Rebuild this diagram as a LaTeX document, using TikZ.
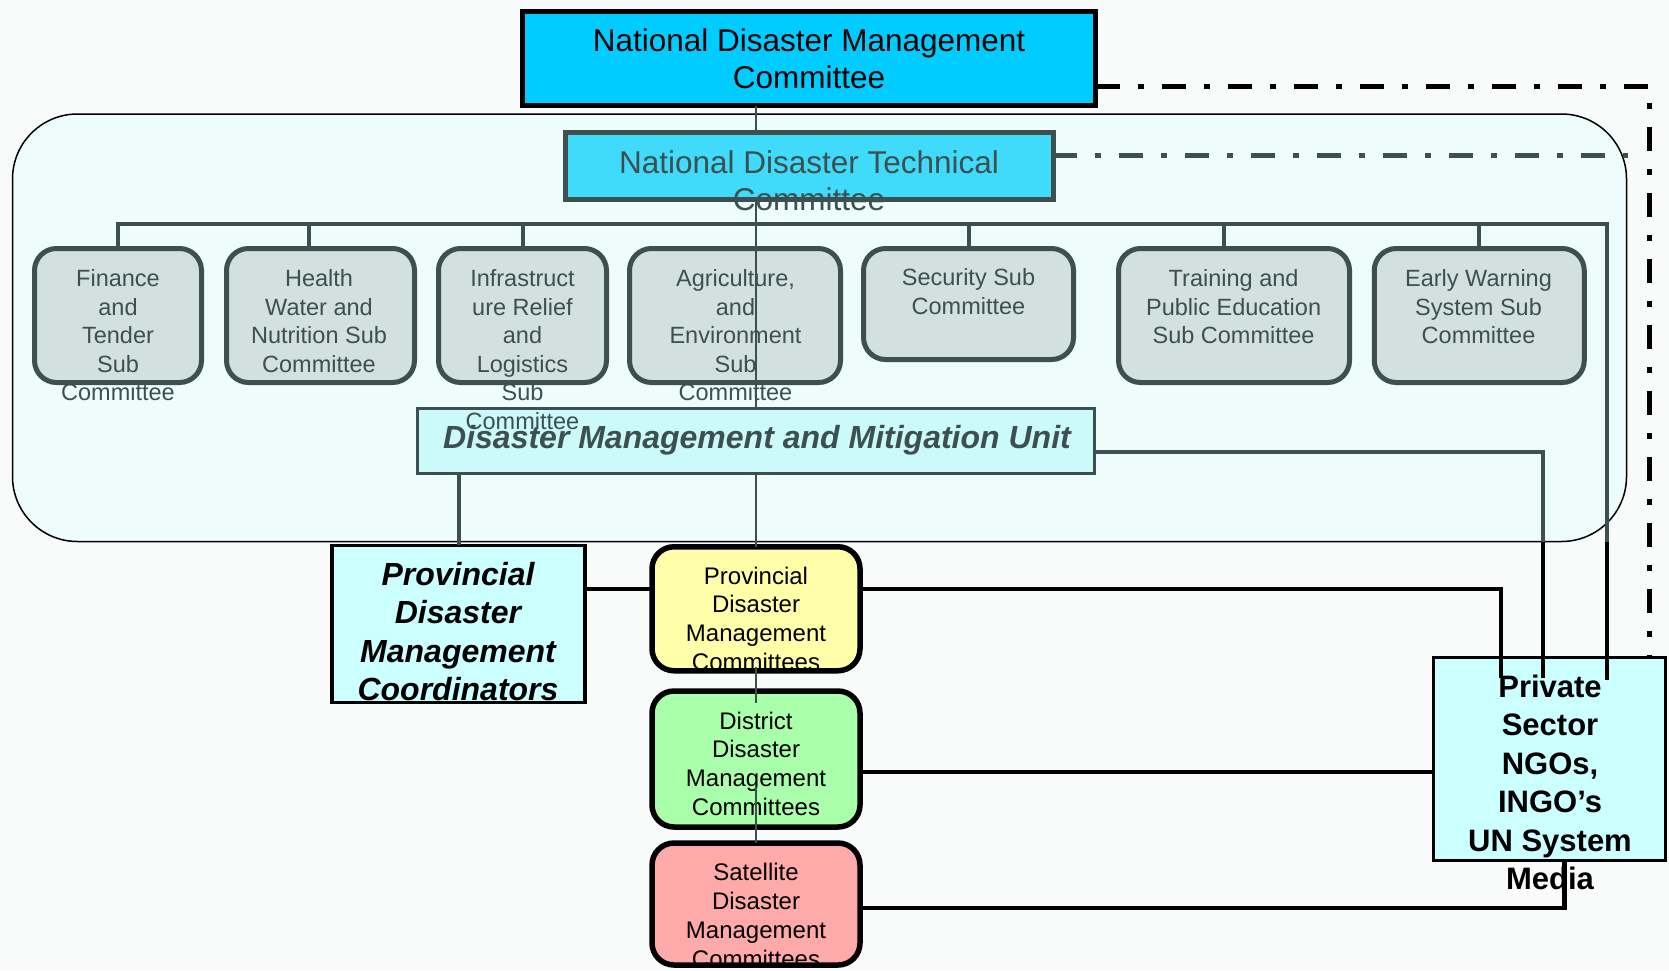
\documentclass[tikz,border=0pt]{standalone}
\usepackage{fontspec}
\setmainfont{Liberation Sans}
\definecolor{slate}{HTML}{3E4F4F}
\definecolor{bgc}{HTML}{F9FAFA}
\definecolor{regfill}{HTML}{EEFCFC}
\definecolor{ndmcfill}{HTML}{00CCFF}
\definecolor{ndtcfill}{HTML}{40DAFA}
\definecolor{subfill}{HTML}{D2E0E0}
\definecolor{dmmufill}{HTML}{CCF9F9}
\definecolor{paleblue}{HTML}{CCFFFF}
\definecolor{pyellow}{HTML}{FFFFAA}
\definecolor{pgreen}{HTML}{AAFFAA}
\definecolor{ppink}{HTML}{FFAAAA}
\tikzset{
  plainbox/.style={rectangle, inner sep=0pt, outer sep=0pt},
  subbox/.style={plainbox, draw=slate, line width=5pt, fill=subfill, rounded corners=22pt},
  lowbox/.style={plainbox, draw=black, line width=5.5pt, rounded corners=22pt, minimum width=208pt},
  subtxt/.style={text=slate, font=\fontsize{23.5}{28.6}\selectfont, align=center, anchor=north, inner sep=0pt},
  lowtxt/.style={text=black, font=\fontsize{24}{28.9}\selectfont, align=center, anchor=north, inner sep=0pt},
  dashdot/.style={line width=5pt, dash pattern=on 24pt off 18pt on 6pt off 18pt},
  bus/.style={draw=slate, line width=4pt},
  conn/.style={draw=black, line width=4.5pt},
  thin/.style={draw=slate, line width=1.5pt}
}
\begin{document}
\begin{tikzpicture}[x=1pt,y=-1pt]
\useasboundingbox (0,0) rectangle (1669,970);
\fill[bgc] (0,0) rectangle (1669,970);

% region
\node[plainbox, draw=black, line width=1.5pt, fill=regfill, rounded corners=65pt,
      minimum width=1614pt, minimum height=427.5pt] (reg) at (819.5,327.75) {};

% top committees
\node[plainbox, draw=black, line width=5pt, fill=ndmcfill, minimum width=573pt, minimum height=94pt,
      font=\fontsize{31.5}{37}\selectfont, align=center] (ndmc) at (809,58.5)
      {National Disaster Management\\Committee};
\node[plainbox, draw=slate, line width=5pt, fill=ndtcfill, minimum width=488pt, minimum height=67pt] (ndtc) at (809.25,166) {};

% dash-dot connectors
\coordinate (dd1) at (1649,86);
\coordinate (dd2) at (1649,680);
\draw[dashdot, black] (ndmc.east |- dd1) -- (dd1) -- (dd2);
\coordinate (dt1) at (1628,155);
\draw[dashdot, slate] (ndtc.east |- dt1) -- (dt1);

\node[text=slate, font=\fontsize{31.5}{37}\selectfont, align=center, anchor=north, inner sep=0pt] (ndtct) at (809,150.4)
      {National Disaster Technical\\Committee};

% sub committee boxes
\node[subbox, minimum width=167pt, minimum height=134pt] (fin) at (118,315.5) {};
\node[subbox, minimum width=188pt, minimum height=134pt] (hea) at (320.5,315.5) {};
\node[subbox, minimum width=168pt, minimum height=134pt] (inf) at (522.5,315.5) {};
\node[subbox, minimum width=211pt, minimum height=134pt] (agr) at (735,315.5) {};
\node[subbox, minimum width=210pt, minimum height=111pt] (sec) at (968.5,304) {};
\node[subbox, minimum width=231pt, minimum height=134pt] (tra) at (1234,315.5) {};
\node[subbox, minimum width=210pt, minimum height=134pt] (ear) at (1479.25,315.5) {};

% bus
\coordinate (busR) at (1607,223.5);
\coordinate (busB) at (1607,541.5);
\coordinate (busE) at (1607,680);
\coordinate (hs) at (309,223.5);
\coordinate (ts) at (1224,223.5);
\draw[bus] (fin.north) -- (fin.north |- busR) -- (busR) -- (busB);
\draw[bus] (hs) -- (hs |- hea.north);
\draw[bus] (inf.north |- busR) -- (inf.north);
\draw[bus] (sec.north |- busR) -- (sec.north);
\draw[bus] (ts) -- (ts |- tra.north);
\draw[bus] (ear.north |- busR) -- (ear.north);

% DMMU box
\node[plainbox, draw=slate, line width=3.5pt, fill=dmmufill, minimum width=677pt, minimum height=65pt] (dmmu) at (755.75,441) {};

% sub committee texts
\node[subtxt] (fint) at (118,269.3) {Finance\\and\\Tender\\Sub\\Committee};
\node[subtxt] (heat) at (319,269.3) {Health\\Water and\\Nutrition Sub\\Committee};
\node[subtxt] (inft) at (522.5,269.3) {Infrastruct\\ure Relief\\and\\Logistics\\Sub\\Committee};
\node[subtxt] (agrt) at (735.5,269.3) {Agriculture,\\and\\Environment\\Sub\\Committee};
\node[subtxt] (sect) at (968.5,268.5) {Security Sub\\Committee};
\node[subtxt] (trat) at (1233.6,269.3) {Training and\\Public Education\\Sub Committee};
\node[subtxt] (eart) at (1478.5,269.3) {Early Warning\\System Sub\\Committee};

% thin vertical line
\coordinate (vx) at (756,0);
\draw[thin] (ndmc.south -| vx) -- (ndtc.north -| vx);
\draw[thin] (ndtc.south -| vx) -- (dmmu.north -| vx);

\node[text=slate, font=\fontsize{32}{38}\selectfont\bfseries\itshape, anchor=base, inner sep=0pt] (dmmut) at (757,448)
      {Disaster Management and Mitigation Unit};

% lower boxes
\node[plainbox, draw=black, line width=3.5pt, fill=paleblue, minimum width=253pt, minimum height=157pt] (coord) at (458.5,623.75) {};
\node[lowbox, fill=pyellow, minimum height=124pt] (pdmc) at (756,608.75) {};
\node[lowbox, fill=pgreen, minimum height=136pt] (ddmc) at (756,759) {};
\node[lowbox, fill=ppink, minimum height=122pt] (sdmc) at (756,904) {};
\node[plainbox, draw=black, line width=3.5pt, fill=paleblue, minimum width=232pt, minimum height=203pt] (priv) at (1549.5,759) {};

\node[anchor=north, inner sep=0pt, align=center, font=\fontsize{32}{38.4}\selectfont\bfseries\itshape] (coordt) at (458,561.8)
      {Provincial\\Disaster\\Management\\Coordinators};
\node[lowtxt] (pdmct) at (756,566.4) {Provincial\\Disaster\\Management\\Committees};
\node[lowtxt] (ddmct) at (756,711.4) {District\\Disaster\\Management\\Committees};
\node[lowtxt] (sdmct) at (756,863) {Satellite\\Disaster\\Management\\Committees};
\node[anchor=north, inner sep=0pt, align=center, font=\fontsize{31}{38.4}\selectfont\bfseries] (privt) at (1550,674.8)
      {Private\\Sector\\NGOs,\\INGO’s\\UN System\\Media};

% thin segments
\draw[thin] (dmmu.south -| vx) -- (pdmc.north);
\coordinate (v1) at (756,667);
\coordinate (v2) at (756,703);
\coordinate (v3) at (756,787);
\draw[thin] (v1) -- (v2);
\draw[thin] (v3) -- (sdmc.north);

% DMMU connectors
\draw[bus] (dmmu.south -| coord.north) -- (coord.north);
\coordinate (dm1) at (1543,452);
\coordinate (dm2) at (1543,541.5);
\coordinate (dm3) at (1543,678);
\draw[bus] (dmmu.east |- dm1) -- (dm1) -- (dm2);
\draw[conn] (dm2) -- (dm3);
\draw[conn] (busB) -- (busE);

% lower connectors
\coordinate (c1) at (1501,589);
\coordinate (c1e) at (1501,678);
\draw[conn] (coord.east |- c1) -- (pdmc.west |- c1);
\draw[conn] (pdmc.east |- c1) -- (c1) -- (c1e);
\coordinate (c2) at (1400,772);
\draw[conn] (ddmc.east |- c2) -- (priv.west |- c2);
\coordinate (c3) at (1564.5,908);
\draw[conn] (sdmc.east |- c3) -- (c3) -- (priv.south -| c3);
\end{tikzpicture}
\end{document}
